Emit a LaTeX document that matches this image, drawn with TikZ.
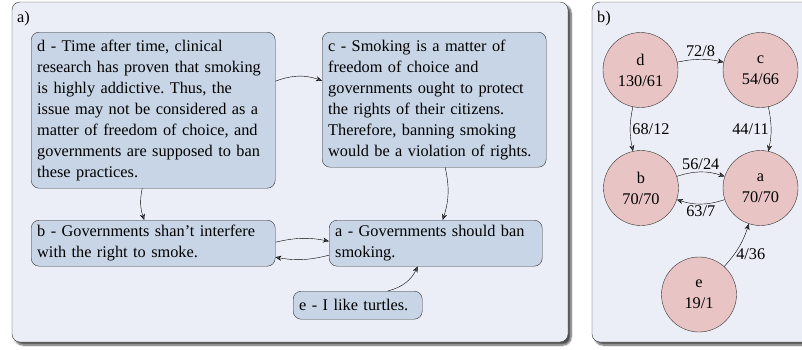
\documentclass[tikz,border=0pt]{standalone}
\usepackage{fontspec}
\setmainfont{Liberation Serif}
\usetikzlibrary{arrows.meta,shadows.blur}
\definecolor{panelfill}{HTML}{EBEEF6}
\definecolor{boxfill}{HTML}{C8D5E6}
\definecolor{argfill}{HTML}{E8C4C4}
\frenchspacing
\tikzset{
  panel/.style={draw=black!80,fill=panelfill,rounded corners=8pt,
    blur shadow={shadow xshift=3pt,shadow yshift=-3pt,shadow blur steps=8,shadow opacity=70}},
  claim/.style={draw=black!80,fill=boxfill,rounded corners=8pt,anchor=north west,
    align=left,inner xsep=6pt,inner ysep=2pt},
  arg/.style={circle,draw=black!80,fill=argfill,minimum size=75pt,inner sep=0pt,align=center},
  lab/.style={anchor=base west,inner sep=0pt},
  wt/.style={inner sep=2pt}
}
\begin{document}
\begin{tikzpicture}[x=1pt,y=-1pt,font=\fontsize{16.3}{21}\selectfont,>={Stealth[length=6pt,width=5pt]}]
\useasboundingbox (0,0) rectangle (802,349);
\draw[panel](12,2)rectangle(568,342);
\draw[panel](592,2)rectangle(814,342);
\node[lab](pa) at (17,22){a)};
\node[lab](pb) at (597,22){b)};
\node[claim,text width=232pt,minimum height=156pt](d) at (31,32){d - Time after time, clinical\\
research has proven that smoking\\is highly addictive. Thus, the\\
issue may not be considered as a\\matter of freedom of choice, and\\
governments are supposed to ban\\these practices.};
\node[claim,text width=212pt,minimum height=135pt](c) at (322,32){c - Smoking is a matter of\\
freedom of choice and\\governments ought to protect\\the rights of their citizens.\\
Therefore, banning smoking\\would be a violation of rights.};
\node[claim,text width=232pt,minimum height=46pt](b) at (31,220){b - Governments shan’t interfere\\
with the right to smoke.};
\node[claim,text width=201pt,minimum height=46pt](a) at (329,220){a - Governments should ban\\
smoking.};
\node[claim,text width=117pt,minimum height=28pt](e) at (293,291){e - I like turtles.};
\draw[->]([yshift=29pt]d.east) to[bend left=20] ([yshift=19pt]c.west);
\draw[->]([xshift=-11pt]d.south) to[bend right=15] ([xshift=-9pt]b.north);
\draw[->]([xshift=11pt]c.south) to[bend left=15] ([xshift=7pt]a.north);
\draw[->]([yshift=1pt]b.east) to[bend left=12] ([yshift=2pt]a.west);
\draw[->]([yshift=-12pt]a.west) to[bend left=12] ([yshift=-14pt]b.east);
\draw[->]([xshift=30pt]e.north) to[bend right=25] ([xshift=-18pt]a.south);
\node[arg](nd) at (640.5,70){d\\130/61};
\node[arg](nc) at (760.5,70){c\\54/66};
\node[arg](nb) at (641,188){b\\70/70};
\node[arg](na) at (760.5,188){a\\70/70};
\node[arg](ne) at (699,294.5){e\\19/1};
\draw[->](nd) to[bend left=12] node[wt,above]{72/8} (nc);
\draw[->](nd) to[bend right=12] node[wt,right]{68/12} (nb);
\draw[->](nc) to[bend left=12] node[wt,left]{44/11} (na);
\draw[->](nb) to[bend left=18] node[wt,above]{56/24} (na);
\draw[->](na) to[bend left=18] node[wt,below]{63/7} (nb);
\draw[->](ne) to[bend right=12] node[wt,right,pos=.3]{4/36} (na);
\end{tikzpicture}
\end{document}
